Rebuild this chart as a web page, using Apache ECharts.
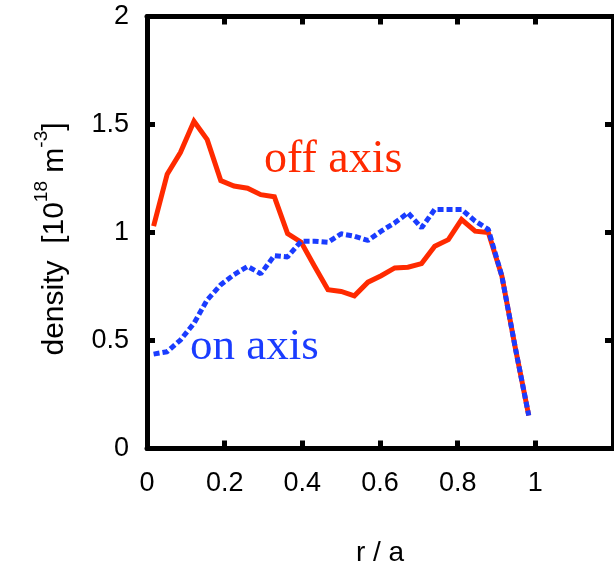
<!DOCTYPE html>
<html>
<head>
<meta charset="utf-8">
<script src="https://cdn.jsdelivr.net/npm/echarts@6/dist/echarts.min.js"></script>
<style>
html,body{margin:0;padding:0;background:#fff;}
#chart{width:614px;height:564px;}
</style>
</head>
<body>
<div id="chart"></div>
<script>
// radial positions r/a
const rValues = [0.017, 0.052, 0.086, 0.121, 0.155, 0.19, 0.224, 0.259, 0.293, 0.328,
  0.362, 0.397, 0.431, 0.466, 0.5, 0.534, 0.569, 0.603, 0.638, 0.672,
  0.707, 0.741, 0.776, 0.81, 0.845, 0.879, 0.914, 0.948, 0.983];
// density [1e18 m^-3], off-axis heating
const offAxis = [1.03, 1.27, 1.37, 1.515, 1.43, 1.24, 1.215, 1.205, 1.175, 1.165,
  0.995, 0.955, 0.845, 0.735, 0.727, 0.707, 0.77, 0.80, 0.836, 0.839,
  0.856, 0.936, 0.967, 1.06, 1.006, 1.0, 0.797, 0.47, 0.153];
// density [1e18 m^-3], on-axis heating
const onAxis = [0.437, 0.448, 0.502, 0.58, 0.688, 0.758, 0.805, 0.843, 0.809, 0.893,
  0.887, 0.96, 0.96, 0.955, 0.994, 0.983, 0.963, 1.006, 1.045, 1.091,
  1.022, 1.107, 1.107, 1.107, 1.053, 1.014, 0.797, 0.47, 0.153];
const xTicks = [0, 0.2, 0.4, 0.6, 0.8, 1];
const yTicks = [0, 0.5, 1, 1.5, 2];

const RED = '#ff2a00';
const BLUE = '#1a3cff';
const SANS = '"Liberation Sans", Arial, Helvetica, sans-serif';
const SERIF = '"Liberation Serif", "Times New Roman", serif';

const chart = echarts.init(document.getElementById('chart'), null, {renderer: 'canvas'});

const axisLine = {show: true, onZero: false, lineStyle: {color: '#000', width: 5}};
const axisTick = {show: true, inside: true, length: 8, lineStyle: {color: '#000', width: 5}};

function fmtX(v) {
  const ok = xTicks.some(t => Math.abs(t - v) < 1e-9);
  return ok ? String(+v.toFixed(1)) : '';
}
function fmtY(v) {
  const ok = yTicks.some(t => Math.abs(t - v) < 1e-9);
  return ok ? String(+v.toFixed(1)) : '';
}

chart.setOption({
  animation: false,
  backgroundColor: '#fff',
  grid: {left: 147, right: 1, top: 16.5, bottom: 115.5, containLabel: false, outerBoundsMode: 'none'},
  xAxis: [
    {
      type: 'value', position: 'bottom', min: 0, max: 1.2, interval: 0.2,
      axisLine, axisTick, splitLine: {show: false},
      axisLabel: {show: true, formatter: fmtX, fontFamily: SANS, fontSize: 27, color: '#000', margin: 22, showMaxLabel: false},
      name: 'r / a', nameLocation: 'middle', nameGap: 91,
      nameTextStyle: {fontFamily: SANS, fontSize: 28, color: '#000'}
    },
    {
      type: 'value', position: 'top', min: 0, max: 1.2, interval: 0.2,
      axisLine, axisTick, splitLine: {show: false}, axisLabel: {show: false}
    }
  ],
  yAxis: [
    {
      type: 'value', position: 'left', min: 0, max: 2, interval: 0.5,
      axisLine, axisTick, splitLine: {show: false},
      axisLabel: {show: true, formatter: fmtY, fontFamily: SANS, fontSize: 27, color: '#000', margin: 18}
    },
    {
      type: 'value', position: 'right', min: 0, max: 2, interval: 0.5,
      axisLine, axisTick, splitLine: {show: false}, axisLabel: {show: false}
    }
  ],
  series: [
    {
      name: 'off axis', type: 'line',
      data: rValues.map((r, i) => [r, offAxis[i]]),
      showSymbol: false, symbol: 'none',
      lineStyle: {color: RED, width: 5, type: 'solid', join: 'miter'},
      z: 3
    },
    {
      name: 'on axis', type: 'line',
      data: rValues.map((r, i) => [r, onAxis[i]]),
      showSymbol: false, symbol: 'none',
      lineStyle: {color: BLUE, width: 5, type: [6, 3], cap: 'butt'},
      z: 4
    }
  ],
  graphic: [
    {
      type: 'text', left: 264, top: 137, z: 10,
      style: {text: 'off axis', fill: RED, font: '46px ' + SERIF}
    },
    {
      type: 'text', left: 190, top: 325, z: 10,
      style: {text: 'on axis', fill: BLUE, font: '45px ' + SERIF}
    },
    {
      type: 'text', x: 50, y: 239, rotation: Math.PI / 2, z: 10,
      style: {
        text: '{a|density  [10}{s|18}{a| m}{s|-3}{a|]}',
        align: 'center', verticalAlign: 'middle',
        rich: {
          a: {fontFamily: SANS, fontSize: 30, fill: '#000', lineHeight: 40, verticalAlign: 'bottom'},
          s: {fontFamily: SANS, fontSize: 19, fill: '#000', lineHeight: 40, verticalAlign: 'top', padding: [2, 0, 0, 0]}
        }
      }
    }
  ]
});
</script>
</body>
</html>
